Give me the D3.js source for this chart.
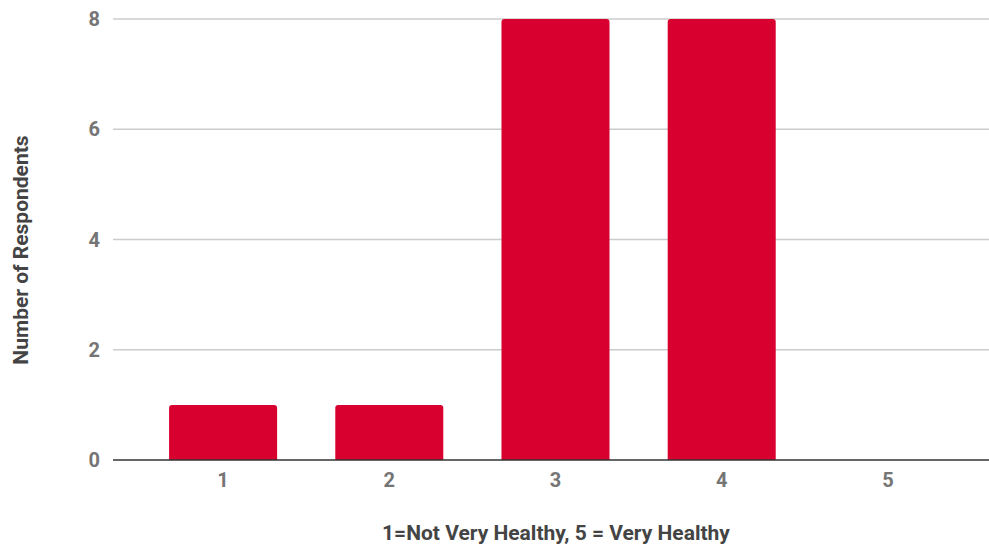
<!DOCTYPE html>
<html><head><meta charset="utf-8">
<script src="https://cdn.jsdelivr.net/npm/d3@7"></script>
<style>body{margin:0;background:#fff}svg{display:block}text{font-family:Roboto,"Noto Sans",sans-serif;font-weight:bold}</style>
</head><body>
<svg id="c" width="989" height="546"></svg>
<script>
const categories = ["1","2","3","4","5"];
const values = [1, 1, 8, 8, 0];
const yTicks = [0, 2, 4, 6, 8];
const xTitle = "1=Not Very Healthy, 5 = Very Healthy";
const yTitle = "Number of Respondents";

const svg = d3.select("#c");
const x = d3.scaleBand().domain(categories).range([140, 971]).paddingInner(0.35).paddingOuter(0.175);
const y = d3.scaleLinear().domain([0, 8]).range([460, 19]);
const gridL = 113, gridR = 989;

svg.append("g").selectAll("line").data(yTicks.filter(d => d > 0)).join("line")
  .attr("x1", gridL).attr("x2", gridR)
  .attr("y1", d => y(d)).attr("y2", d => y(d))
  .attr("stroke", "#cccccc").attr("stroke-width", 1.5);

svg.append("g").selectAll("text").data(yTicks).join("text")
  .attr("x", 100).attr("y", d => y(d)).attr("dy", "0.36em")
  .attr("text-anchor", "end").attr("fill", "#757575").attr("font-size", 20)
  .text(d => d);

const r = 3;
svg.append("g").selectAll("path").data(values.map((v, i) => ({c: categories[i], v}))).join("path")
  .filter(d => d.v > 0)
  .attr("fill", "#d8002e")
  .attr("d", d => {
    const x0 = x(d.c), w = x.bandwidth(), yt = y(d.v), yb = y(0);
    return `M${x0},${yb}V${yt + r}Q${x0},${yt} ${x0 + r},${yt}H${x0 + w - r}Q${x0 + w},${yt} ${x0 + w},${yt + r}V${yb}Z`;
  });

svg.append("line").attr("x1", gridL).attr("x2", gridR).attr("y1", y(0)).attr("y2", y(0))
  .attr("stroke", "#333333").attr("stroke-width", 1.5);

svg.append("g").selectAll("text").data(categories).join("text")
  .attr("x", d => x(d) + x.bandwidth() / 2).attr("y", 487)
  .attr("text-anchor", "middle").attr("fill", "#757575").attr("font-size", 20)
  .text(d => d);

svg.append("text").attr("x", 556).attr("y", 540).attr("text-anchor", "middle")
  .attr("fill", "#444444").attr("font-size", 21).text(xTitle);

svg.append("text").attr("transform", "translate(28,250) rotate(-90)").attr("text-anchor", "middle")
  .attr("fill", "#444444").attr("font-size", 21).text(yTitle);
</script>
</body></html>
